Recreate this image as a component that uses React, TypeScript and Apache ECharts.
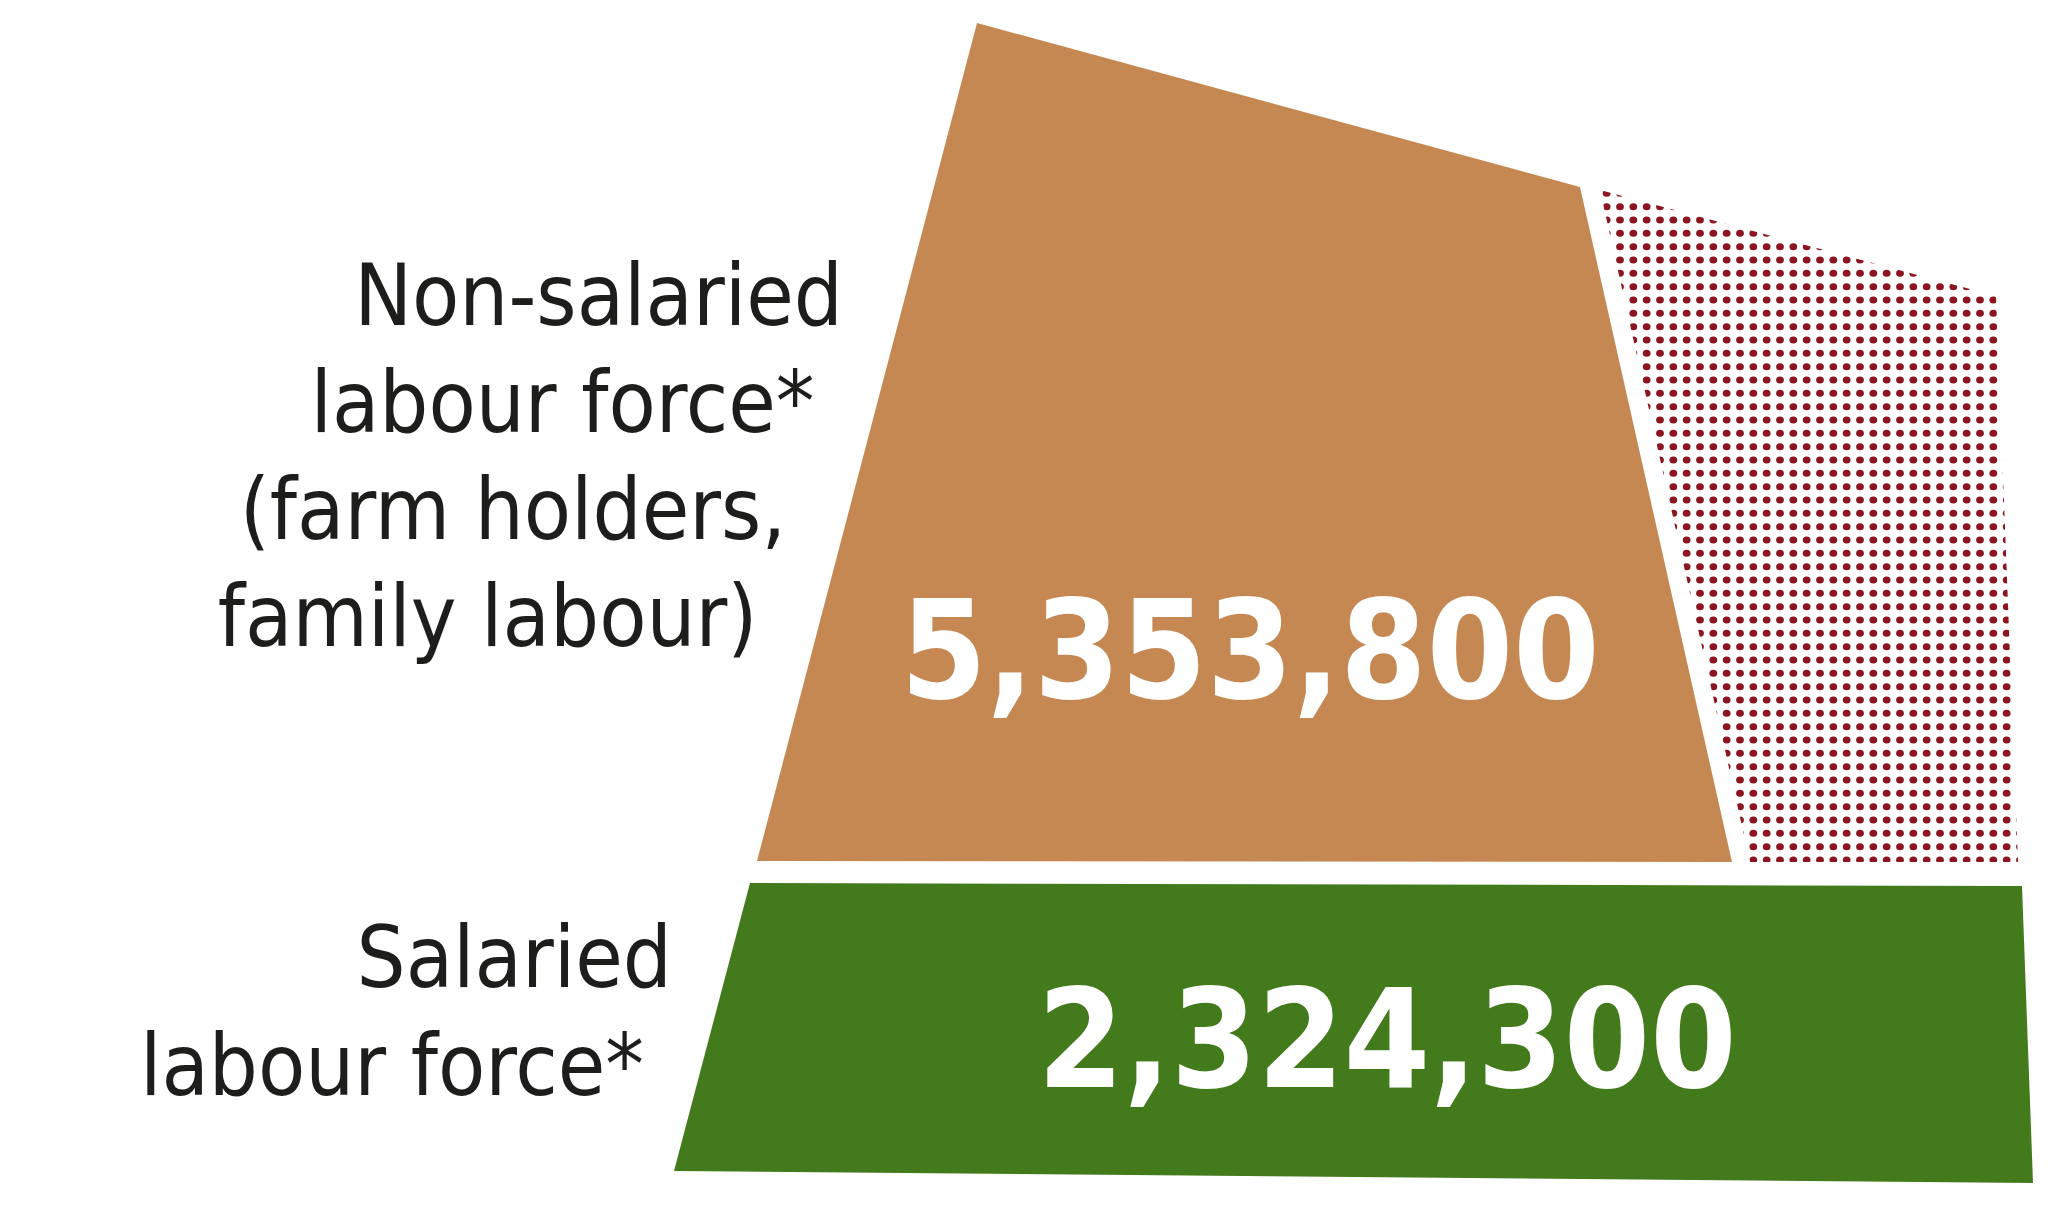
import React, { useEffect, useRef } from "react";
import * as echarts from "echarts";

// ---- data ----
const categories = [
  "Non-salaried labour force* (farm holders, family labour)",
  "Salaried labour force*",
];
const values = [5353800, 2324300];
const labelLines = [
  ["Non-salaried", "labour force*", "(farm holders,", "family labour)"],
  ["Salaried", "labour force*"],
];

// ---- layout (drawing space 0..W, 0..H) ----
const W = 2060;
const H = 1217;
const shapes = [
  [[977, 23], [1580, 187], [1732, 862], [757, 861]],
  [[750, 883], [2022, 886], [2033, 1183], [674, 1171]],
];
const dottedShape = [[1600, 190], [1996, 296], [2018, 862], [1750, 862]];
const numberPos = [[1250, 650], [1387, 1039]];
const labelPos = [
  { x: 843, y: 295, dx: -28.5, dy: 107 },
  { x: 672, y: 957, dx: -28, dy: 108 },
];
const fills = ["#C68852", "#437A1B"];
const dotColor = "#8B1520";

function makePattern() {
  const cv = document.createElement("canvas");
  cv.width = 40;
  cv.height = 40;
  const ctx = cv.getContext("2d")!;
  ctx.fillStyle = dotColor;
  const s = 40 / 3;
  for (let a = 0; a < 3; a++) {
    for (let b = 0; b < 3; b++) {
      ctx.beginPath();
      ctx.ellipse(s / 2 + a * s, s / 2 + b * s, 3.9, 3.5, 0, 0, Math.PI * 2);
      ctx.fill();
    }
  }
  return { image: cv, repeat: "repeat", imageWidth: 40, imageHeight: 40 };
}

export default function App() {
  const ref = useRef<HTMLDivElement>(null);
  useEffect(() => {
    if (!ref.current) return;
    const chart = echarts.init(ref.current, null, { renderer: "svg" });
    const pattern = makePattern();
    const fmt = (v: number) => v.toLocaleString("en-US");
    chart.setOption({
      animation: false,
      backgroundColor: "#ffffff",
      grid: { left: 0, right: 0, top: 0, bottom: 0 },
      xAxis: { type: "value", min: 0, max: W, show: false },
      yAxis: { type: "value", min: 0, max: H, inverse: true, show: false },
      series: [
        {
          type: "custom",
          name: "Labour force",
          coordinateSystem: "cartesian2d",
          data: values.map((v, i) => ({ name: categories[i], value: [i, v] })),
          encode: { x: 0 },
          renderItem: (params: any, api: any) => {
            const i = params.dataIndex;
            const children: any[] = [];
            if (i === 0) {
              children.push({
                type: "polygon",
                shape: { points: dottedShape.map((p) => api.coord(p)) },
                style: { fill: pattern },
              });
            }
            children.push({
              type: "polygon",
              shape: { points: shapes[i].map((p) => api.coord(p)) },
              style: { fill: fills[i] },
            });
            const c = api.coord(numberPos[i]);
            children.push({
              type: "text",
              x: c[0],
              y: c[1],
              style: {
                text: fmt(values[i]),
                fill: "#ffffff",
                fontSize: 138,
                fontWeight: "bold",
                fontFamily: "'DejaVu Sans Condensed', 'DejaVu Sans', sans-serif",
                align: "center",
                verticalAlign: "middle",
              },
            });
            const lp = labelPos[i];
            labelLines[i].forEach((line, k) => {
              const p = api.coord([lp.x + k * lp.dx, lp.y + k * lp.dy]);
              children.push({
                type: "text",
                x: p[0],
                y: p[1],
                style: {
                  text: line,
                  fill: "#1d1d1b",
                  fontSize: 86,
                  fontFamily: "'DejaVu Sans Condensed', 'DejaVu Sans', sans-serif",
                  align: "right",
                  verticalAlign: "middle",
                },
              });
            });
            return { type: "group", children };
          },
        },
      ],
    });
    return () => chart.dispose();
  }, []);
  return (
    <div
      ref={ref}
      style={{ position: "fixed", left: 0, top: 0, width: W, height: H, background: "#fff" }}
    />
  );
}
